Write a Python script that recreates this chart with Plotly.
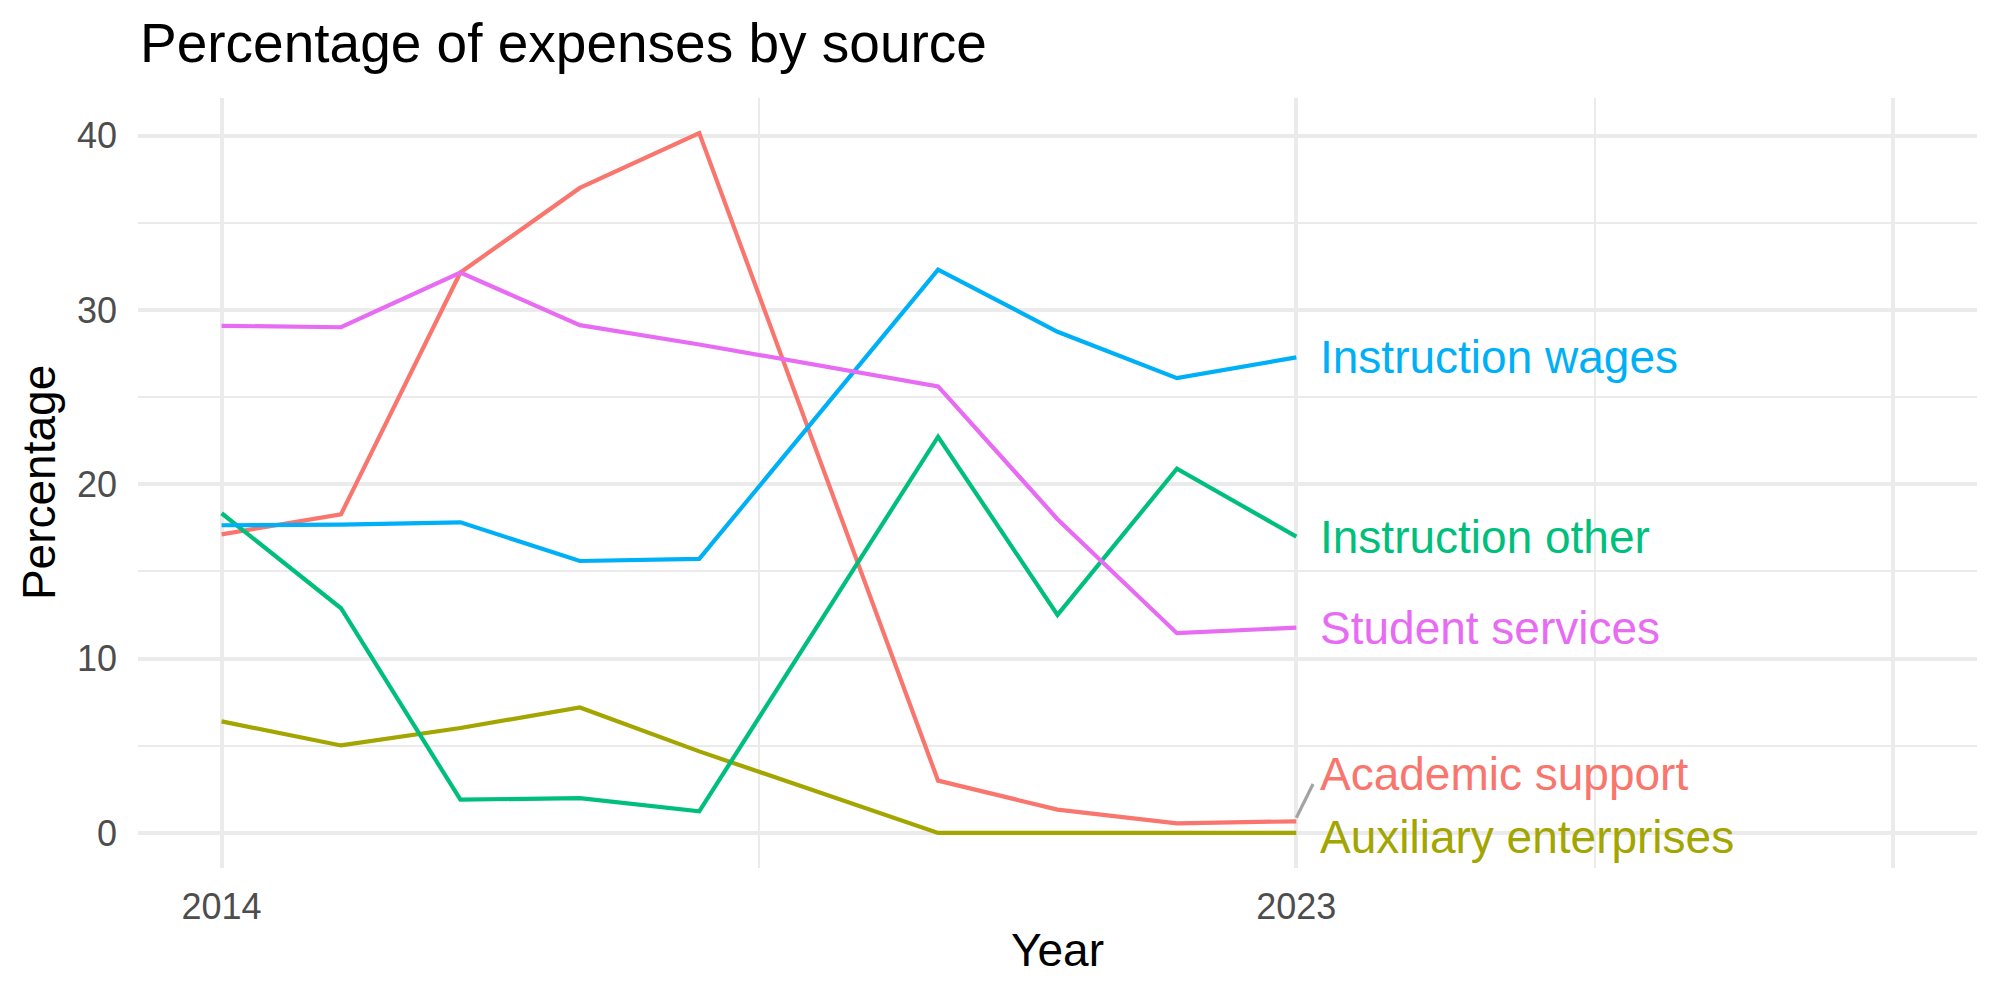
import plotly.graph_objects as go

years = [2014, 2015, 2016, 2017, 2018, 2020, 2021, 2022, 2023]
series_names = ["Academic support", "Auxiliary enterprises", "Instruction other",
                "Instruction wages", "Student services"]
academic_support = [17.13, 18.28, 32.15, 37.0, 40.15, 3.0, 1.34, 0.55, 0.67]
auxiliary_enterprises = [6.40, 5.02, 6.02, 7.2, 4.68, 0.0, 0.0, 0.0, 0.0]
instruction_other = [18.34, 12.89, 1.91, 2.0, 1.24, 22.73, 12.51, 20.9, 17.0]
instruction_wages = [17.65, 17.69, 17.82, 15.6, 15.72, 32.32, 28.75, 26.09, 27.28]
student_services = [29.09, 29.01, 32.15, 29.13, 28.02, 25.62, 18.0, 11.46, 11.78]
# repelled label positions (y)
label_y = [3.39, -0.24, 16.95, 27.28, 11.78]
colors = ["#F8766D", "#A3A500", "#00BF7D", "#00B0F6", "#E76BF3"]

x_ticks = [2014, 2023, 2028]
x_ticktext = ["2014", "2023", ""]
x_minor = [2018.5, 2025.5]
y_ticks = [0, 10, 20, 30, 40]
y_minor = [5, 15, 25, 35]

FONT = "Liberation Sans, Arial, Helvetica, sans-serif"
values = [academic_support, auxiliary_enterprises, instruction_other,
          instruction_wages, student_services]

fig = go.Figure()
label_x = years[-1] + 0.18
for name, vals, col, ly in zip(series_names, values, colors, label_y):
    fig.add_trace(go.Scatter(x=years, y=vals, mode="lines", name=name,
                             line=dict(color=col, width=4.2), showlegend=False))
    if abs(ly - vals[-1]) > 1.0:
        # repel connector segment from the last point toward the label
        fig.add_trace(go.Scatter(
            x=[years[-1], years[-1] + 0.14],
            y=[vals[-1] + 0.2 * (ly - vals[-1]) / abs(ly - vals[-1]), ly - 0.58],
            mode="lines", line=dict(color="#A3A3A3", width=3.2),
            showlegend=False, hoverinfo="skip"))
    fig.add_annotation(x=label_x, y=ly, xref="x", yref="y", text=name,
                       showarrow=False, xanchor="left", yanchor="middle",
                       font=dict(family=FONT, size=46, color=col))

fig.add_annotation(xref="paper", yref="paper", x=0.0, y=1.071, text="Percentage of expenses by source",
                   showarrow=False, xanchor="left", yanchor="middle",
                   font=dict(family=FONT, size=55, color="black"))
fig.add_annotation(xref="paper", yref="paper", x=0.5, y=-0.1065, text="Year",
                   showarrow=False, xanchor="center", yanchor="middle",
                   font=dict(family=FONT, size=46, color="black"))
fig.add_annotation(xref="paper", yref="paper", x=-0.0538, y=0.5, text="Percentage",
                   showarrow=False, xanchor="center", yanchor="middle", textangle=-90,
                   font=dict(family=FONT, size=46, color="black"))

fig.update_layout(
    width=2000, height=1000,
    margin=dict(l=138, r=23, t=98, b=132),
    paper_bgcolor="white", plot_bgcolor="white",
    font=dict(family=FONT),
    xaxis=dict(range=[2013.3, 2028.7], tickmode="array", tickvals=x_ticks, ticktext=x_ticktext,
               showgrid=True, gridcolor="#EBEBEB", gridwidth=4, zeroline=False, showline=False,
               ticks="", ticklabelstandoff=14,
               tickfont=dict(family=FONT, size=36, color="#4D4D4D"),
               minor=dict(tickmode="array", tickvals=x_minor, showgrid=True,
                          gridcolor="#EBEBEB", gridwidth=2, ticks="")),
    yaxis=dict(range=[-2.01, 42.16], tickmode="array", tickvals=y_ticks,
               ticktext=[str(v) for v in y_ticks],
               showgrid=True, gridcolor="#EBEBEB", gridwidth=4, zeroline=False, showline=False,
               ticks="", ticklabelstandoff=20,
               tickfont=dict(family=FONT, size=36, color="#4D4D4D"),
               minor=dict(tickmode="array", tickvals=y_minor, showgrid=True,
                          gridcolor="#EBEBEB", gridwidth=2, ticks="")),
)

fig.write_html("out.html")
